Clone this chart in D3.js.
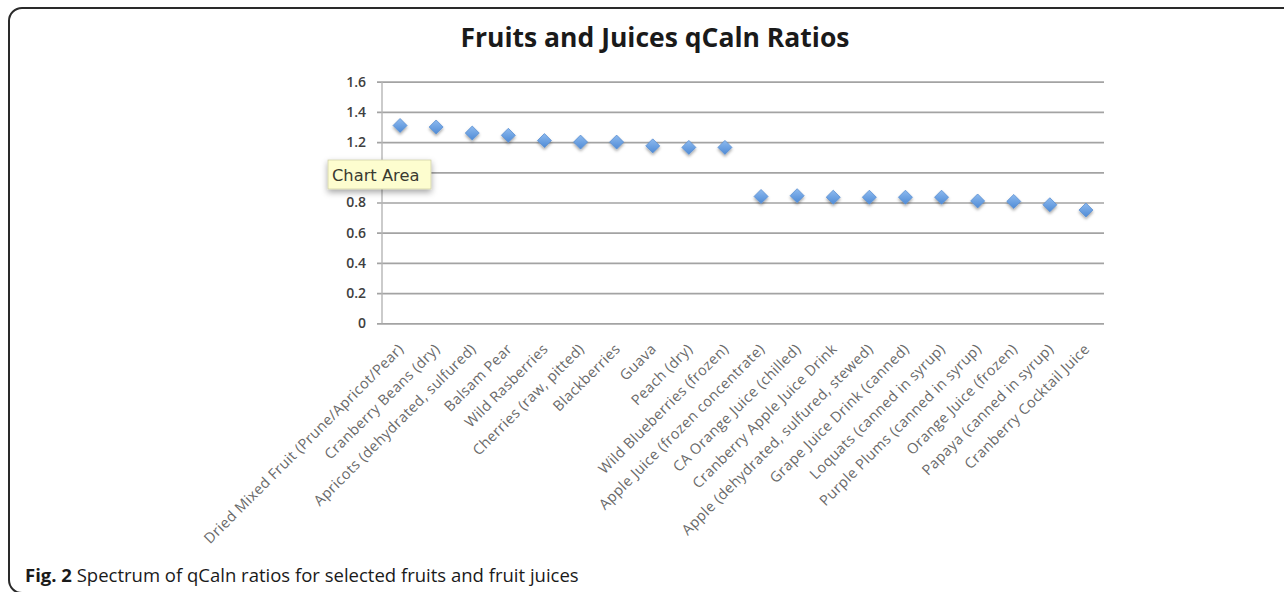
<!DOCTYPE html>
<html>
<head>
<meta charset="utf-8">
<script src="https://cdn.jsdelivr.net/npm/d3@7/dist/d3.min.js"></script>
<style>
  html, body { margin: 0; padding: 0; background: #fff; }
  svg { display: block; }
</style>
</head>
<body>
<svg id="chart" width="1284" height="592"></svg>
<script>
const categories = [
  "Dried Mixed Fruit (Prune/Apricot/Pear)",
  "Cranberry Beans (dry)",
  "Apricots (dehydrated, sulfured)",
  "Balsam Pear",
  "Wild Rasberries",
  "Cherries (raw, pitted)",
  "Blackberries",
  "Guava",
  "Peach (dry)",
  "Wild Blueberries (frozen)",
  "Apple Juice (frozen concentrate)",
  "CA Orange Juice (chilled)",
  "Cranberry Apple Juice Drink",
  "Apple (dehydrated, sulfured, stewed)",
  "Grape Juice Drink (canned)",
  "Loquats (canned in syrup)",
  "Purple Plums (canned in syrup)",
  "Orange Juice (frozen)",
  "Papaya (canned in syrup)",
  "Cranberry Cocktail Juice"
];
const ratios = [1.31, 1.30, 1.26, 1.245, 1.21, 1.20, 1.20, 1.175, 1.165, 1.165,
                0.84, 0.845, 0.835, 0.835, 0.835, 0.835, 0.81, 0.807, 0.785, 0.75];
const yTicks = [0, 0.2, 0.4, 0.6, 0.8, 1.0, 1.2, 1.4, 1.6];
const hiddenTick = 1.0; // covered by the "Chart Area" tooltip in the original
const titleText = "Fruits and Juices qCaln Ratios";
const captionBold = "Fig. 2";
const captionText = " Spectrum of qCaln ratios for selected fruits and fruit juices";
const tooltipText = "Chart Area";

(function () {
const svg = d3.select("#chart");

// frame
svg.append("path")
  .attr("d", "M1290,8 H22 A13,13 0 0 0 9,21 V580 A13,13 0 0 0 22,593 H1290")
  .attr("fill", "none").attr("stroke", "#2a2a2a").attr("stroke-width", 2);

const defs = svg.append("defs");
const f = defs.append("filter").attr("id", "shadow")
  .attr("x", "-50%").attr("y", "-50%").attr("width", "200%").attr("height", "200%");
f.append("feDropShadow").attr("dx", 0).attr("dy", 2).attr("stdDeviation", 1.6)
  .attr("flood-color", "#000").attr("flood-opacity", 0.35);
const g2 = defs.append("linearGradient").attr("id", "dgrad")
  .attr("x1", 0).attr("y1", 0).attr("x2", 0).attr("y2", 1);
g2.append("stop").attr("offset", "0%").attr("stop-color", "#8dbaef");
g2.append("stop").attr("offset", "100%").attr("stop-color", "#4f8bd6");
const tf = defs.append("filter").attr("id", "tshadow")
  .attr("x", "-20%").attr("y", "-30%").attr("width", "140%").attr("height", "170%");
tf.append("feDropShadow").attr("dx", 0).attr("dy", 3).attr("stdDeviation", 3)
  .attr("flood-color", "#000").attr("flood-opacity", 0.35);

const pLeft = 382, pRight = 1104, pTop = 81.7, pBottom = 323.3;

const x = d3.scaleBand().domain(categories).range([pLeft, pRight]);
const y = d3.scaleLinear().domain([0, 1.6]).range([pBottom, pTop]);

// title
svg.append("text")
  .attr("x", 655).attr("y", 47)
  .attr("text-anchor", "middle")
  .attr("font-family", "'Open Sans', sans-serif")
  .attr("font-weight", "bold")
  .attr("font-size", 26.5)
  .attr("fill", "#1a1a1a")
  .text(titleText);

// y axis with gridlines
const yAxis = d3.axisLeft(y).tickValues(yTicks)
  .tickSize(-(pRight - pLeft + 5))
  .tickPadding(12)
  .tickFormat(d3.format("~g"));
const ya = svg.append("g").attr("transform", `translate(${pLeft - 5},0)`).call(yAxis);
ya.select(".domain").remove();
ya.selectAll(".tick line")
  .attr("stroke", "#a3a3a3").attr("stroke-width", 1.7);
ya.selectAll(".tick text")
  .attr("x", -11)
  .attr("font-family", "'Open Sans', sans-serif")
  .attr("font-weight", 600)
  .attr("font-size", 14)
  .attr("fill", "#3f3f3f");
ya.selectAll(".tick").filter(d => d === hiddenTick).select("text").remove();

// vertical axis line
svg.append("line")
  .attr("x1", pLeft).attr("x2", pLeft).attr("y1", pTop).attr("y2", pBottom)
  .attr("stroke", "#b5b5b5").attr("stroke-width", 1.4);

// x axis labels
const xAxis = d3.axisBottom(x).tickSize(0).tickPadding(0);
const xa = svg.append("g").attr("transform", `translate(0,${pBottom})`).call(xAxis);
xa.select(".domain").remove();
xa.selectAll(".tick text")
  .attr("font-family", "'Open Sans', sans-serif")
  .attr("font-size", 14.5)
  .attr("letter-spacing", 0.4)
  .attr("fill", "#6a6a6a")
  .attr("text-anchor", "end")
  .attr("dy", "0.35em")
  .attr("transform", "translate(1,23) rotate(-45)")
  .attr("y", 0);

// markers
const diamond = d3.symbol().type(d3.symbolDiamond2).size(125);
svg.append("g").selectAll("path")
  .data(ratios)
  .join("path")
  .attr("d", diamond)
  .attr("transform", (d, i) => `translate(${x(categories[i]) + x.bandwidth() / 2},${y(d)})`)
  .attr("fill", "url(#dgrad)")
  .attr("stroke", "#5a8fd2").attr("stroke-width", 0.8)
  .attr("filter", "url(#shadow)");

// tooltip "Chart Area"
const tt = svg.append("g").attr("transform", "translate(328,160)");
tt.append("rect").attr("width", 103).attr("height", 29)
  .attr("fill", "#fdfdcf").attr("stroke", "#cfcfa8").attr("stroke-width", 0.8)
  .attr("filter", "url(#tshadow)");
tt.append("text").attr("x", 4).attr("y", 21)
  .attr("font-family", "'DejaVu Sans', sans-serif")
  .attr("font-size", 16.3)
  .attr("fill", "#3a3a30")
  .text(tooltipText);

// caption
const cap = svg.append("text").attr("x", 25).attr("y", 582)
  .attr("font-family", "'Open Sans', sans-serif")
  .attr("font-size", 18.5)
  .attr("fill", "#1a1a1a");
cap.append("tspan").attr("font-weight", "bold").text(captionBold);
cap.append("tspan").text(captionText);
})();
</script>
</body>
</html>
